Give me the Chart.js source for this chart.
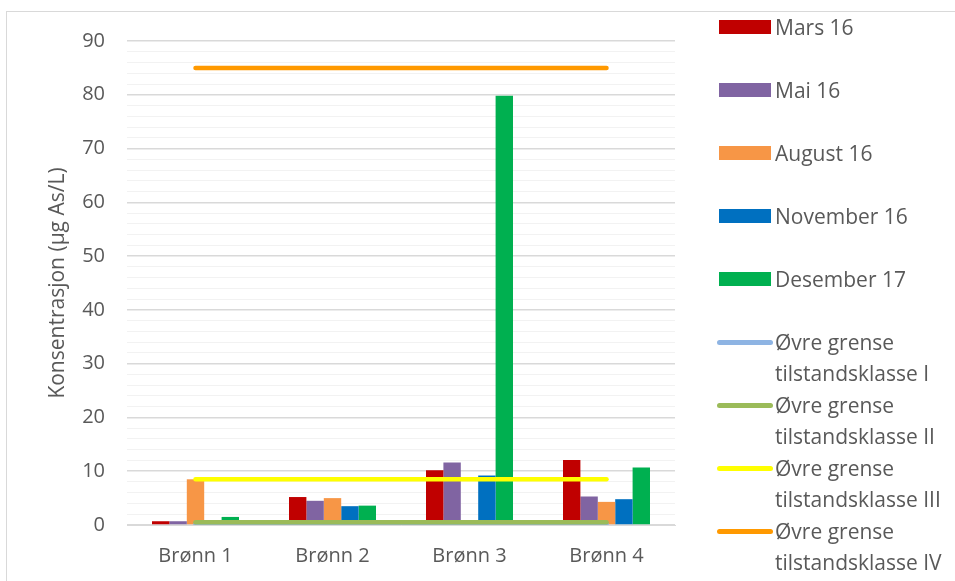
<!DOCTYPE html>
<html>
<head>
<meta charset="utf-8">
<script src="https://cdn.jsdelivr.net/npm/chart.js@4.4.1/dist/chart.umd.min.js"></script>
<style>
  html, body { margin: 0; padding: 0; background: #fff; }
  #wrap { position: relative; width: 955px; height: 581px; overflow: hidden; font-family: "Open Sans", sans-serif; }
  #frame { position: absolute; left: 6px; top: 11px; width: 1000px; height: 1000px; border: 1px solid #d9d9d9; box-sizing: border-box; }
  #chart { position: absolute; left: 0; top: 0; }
  #legend { position: absolute; left: 0; top: 0; }
  .item { position: absolute; left: 717px; color: #595959; font-size: 21px; line-height: 31px; }
  .box { position: absolute; left: 2px; width: 52px; height: 14px; }
  .line { position: absolute; left: 0; width: 56px; height: 5px; border-radius: 3px; }
  .label { position: absolute; left: 58px; white-space: nowrap; }
</style>
</head>
<body>
<div id="wrap">
  <div id="frame"></div>
  <canvas id="chart" width="955" height="581"></canvas>
  <div id="legend"></div>
</div>
<script>
const categories = ['Brønn 1', 'Brønn 2', 'Brønn 3', 'Brønn 4'];

const barNames = ['Mars 16', 'Mai 16', 'August 16', 'November 16', 'Desember 17'];
const barColors = ['#C00000', '#8064A2', '#F79646', '#0070C0', '#00B050'];
const mars16 = [0.7, 5.2, 10.2, 12.1];
const mai16 = [0.7, 4.5, 11.6, 5.3];
const august16 = [8.5, 5.0, null, 4.3];
const november16 = [null, 3.5, 9.2, 4.8];
const desember17 = [1.5, 3.6, 79.8, 10.7];
const barValues = [mars16, mai16, august16, november16, desember17];

const limitNames = [
  ['Øvre grense', 'tilstandsklasse I'],
  ['Øvre grense', 'tilstandsklasse II'],
  ['Øvre grense', 'tilstandsklasse III'],
  ['Øvre grense', 'tilstandsklasse IV']
];
const limitColors = ['#8EB4E3', '#9BBB59', '#FFFF00', '#FF9900'];
const limitValues = [0.15, 0.5, 8.5, 85];

const yTicks = [0, 10, 20, 30, 40, 50, 60, 70, 80, 90];

const textColor = '#595959';

const datasets = [];
barNames.forEach((name, i) => {
    datasets.push({
        type: 'bar',
        label: name,
        data: barValues[i],
        backgroundColor: barColors[i],
        barPercentage: 1,
        categoryPercentage: 0.635,
        order: 10
    });
});
limitNames.forEach((name, i) => {
    datasets.push({
        type: 'line',
        label: name.join(' '),
        data: categories.map(() => limitValues[i]),
        borderColor: limitColors[i],
        borderWidth: 4.5,
        borderCapStyle: 'round',
        pointRadius: 0,
        fill: false,
        order: 5 - i
    });
});

const ctx = document.getElementById('chart').getContext('2d');
new Chart(ctx, {
    data: { labels: categories, datasets: datasets },
    options: {
        responsive: false,
        animation: false,
        layout: { padding: { left: 0, right: 280, top: 41, bottom: 0 } },
        plugins: {
            legend: { display: false },
            tooltip: { enabled: false }
        },
        scales: {
            x: {
                grid: { display: false, drawTicks: false },
                border: { display: true, color: '#d9d9d9' },
                ticks: { color: textColor, font: { family: 'Open Sans', size: 20 }, padding: 19 },
                afterFit: (scale) => { scale.height = 56; }
            },
            y: {
                min: 0,
                max: 90,
                ticks: {
                    stepSize: 2,
                    autoSkip: false,
                    color: textColor,
                    font: { family: 'Open Sans', size: 20 },
                    padding: 22,
                    callback: (v) => (yTicks.includes(v) ? v : '')
                },
                grid: {
                    drawTicks: false,
                    color: (c) => (c.tick && c.tick.value % 10 === 0 ? '#d9d9d9' : '#f2f2f2'),
                    lineWidth: (c) => (c.tick && c.tick.value % 10 === 0 ? 1.5 : 1)
                },
                border: { display: false },
                title: {
                    display: true,
                    text: 'Konsentrasjon (µg As/L)',
                    color: textColor,
                    font: { family: 'Open Sans', size: 21, weight: 'normal' },
                    padding: { top: 45, bottom: 0 }
                },
                afterFit: (scale) => { scale.width = 127; }
            }
        }
    }
});

// legend on the right, one row every 63px
const legend = document.getElementById('legend');
const rowCenter = (i) => 27 + i * 63;
barNames.forEach((name, i) => {
    const el = document.createElement('div');
    el.className = 'item';
    el.style.top = (rowCenter(i) - 15) + 'px';
    el.innerHTML = '<div class="box" style="top:8px;background:' + barColors[i] + '"></div>' +
        '<div class="label">' + name + '</div>';
    legend.appendChild(el);
});
limitNames.forEach((name, i) => {
    const el = document.createElement('div');
    el.className = 'item';
    el.style.top = (rowCenter(i + 5) - 15) + 'px';
    el.innerHTML = '<div class="line" style="top:13px;background:' + limitColors[i] + '"></div>' +
        '<div class="label">' + name[0] + '<br>' + name[1] + '</div>';
    legend.appendChild(el);
});
</script>
</body>
</html>
